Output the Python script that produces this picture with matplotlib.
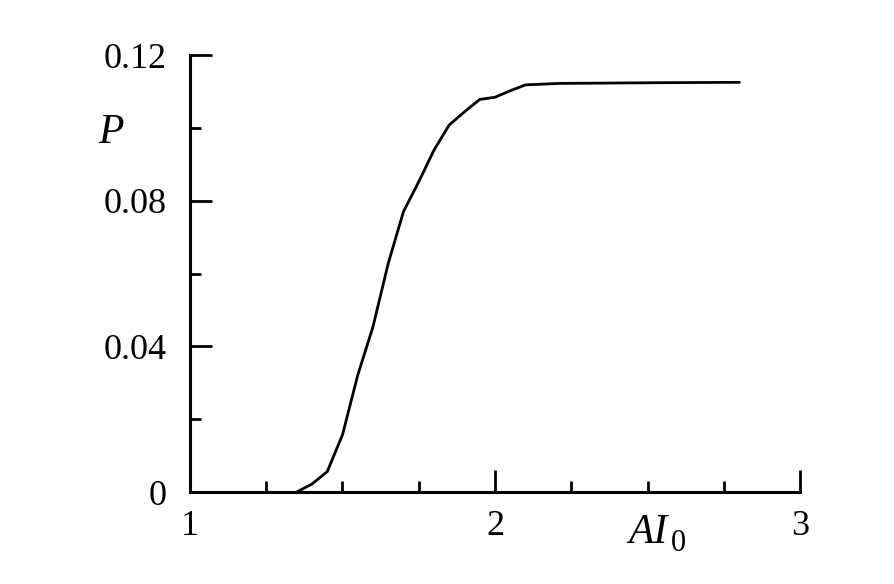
import matplotlib.pyplot as plt
from matplotlib.ticker import MultipleLocator

# curve P vs AI0
ai0 = [1.35, 1.40, 1.45, 1.50, 1.55, 1.60, 1.65, 1.70, 1.75, 1.80, 1.85,
       1.90, 1.95, 2.00, 2.05, 2.10, 2.21, 2.54, 2.80]
p = [0.0, 0.0022, 0.0056, 0.0157, 0.0321, 0.0454, 0.0628, 0.0770, 0.0852,
     0.0939, 0.1008, 0.1044, 0.1078, 0.1084, 0.1102, 0.1118, 0.1122, 0.1124, 0.1125]

xticks = [1, 2, 3]
yticks = [0, 0.04, 0.08, 0.12]
ytick_labels = ["0", "0.04", "0.08", "0.12"]

plt.rcParams['font.family'] = ['Liberation Serif', 'DejaVu Serif']

fig = plt.figure(figsize=(8.94, 5.84), dpi=100)
ax = fig.add_axes([0.2125, 0.1575, 0.6824, 0.7483])

ax.plot(ai0, p, color='black', linewidth=2.0)

ax.set_xlim(1, 3)
ax.set_ylim(0, 0.12)
ax.set_xticks(xticks)
ax.set_xticklabels([str(t) for t in xticks])
ax.set_yticks(yticks)
ax.set_yticklabels(ytick_labels)
ax.xaxis.set_minor_locator(MultipleLocator(0.25))
ax.yaxis.set_minor_locator(MultipleLocator(0.02))

for side in ['top', 'right']:
    ax.spines[side].set_visible(False)
for side in ['left', 'bottom']:
    ax.spines[side].set_linewidth(2.2)

ax.tick_params(which='major', direction='in', length=16, width=2.0,
               labelsize=26, pad=13)
ax.tick_params(which='minor', direction='in', length=8, width=2.0)
ax.tick_params(axis='y', which='major', pad=17)

# axis labels
fig.text(0.1242, 0.7551, 'P', style='italic', fontsize=30,
         ha='center', va='baseline')
fig.text(0.7025, 0.0702, 'AI', style='italic', fontsize=30,
         ha='left', va='baseline')
fig.text(0.7506, 0.0565, '0', fontsize=22, ha='left', va='baseline')

fig.savefig('out.png', dpi=100)
